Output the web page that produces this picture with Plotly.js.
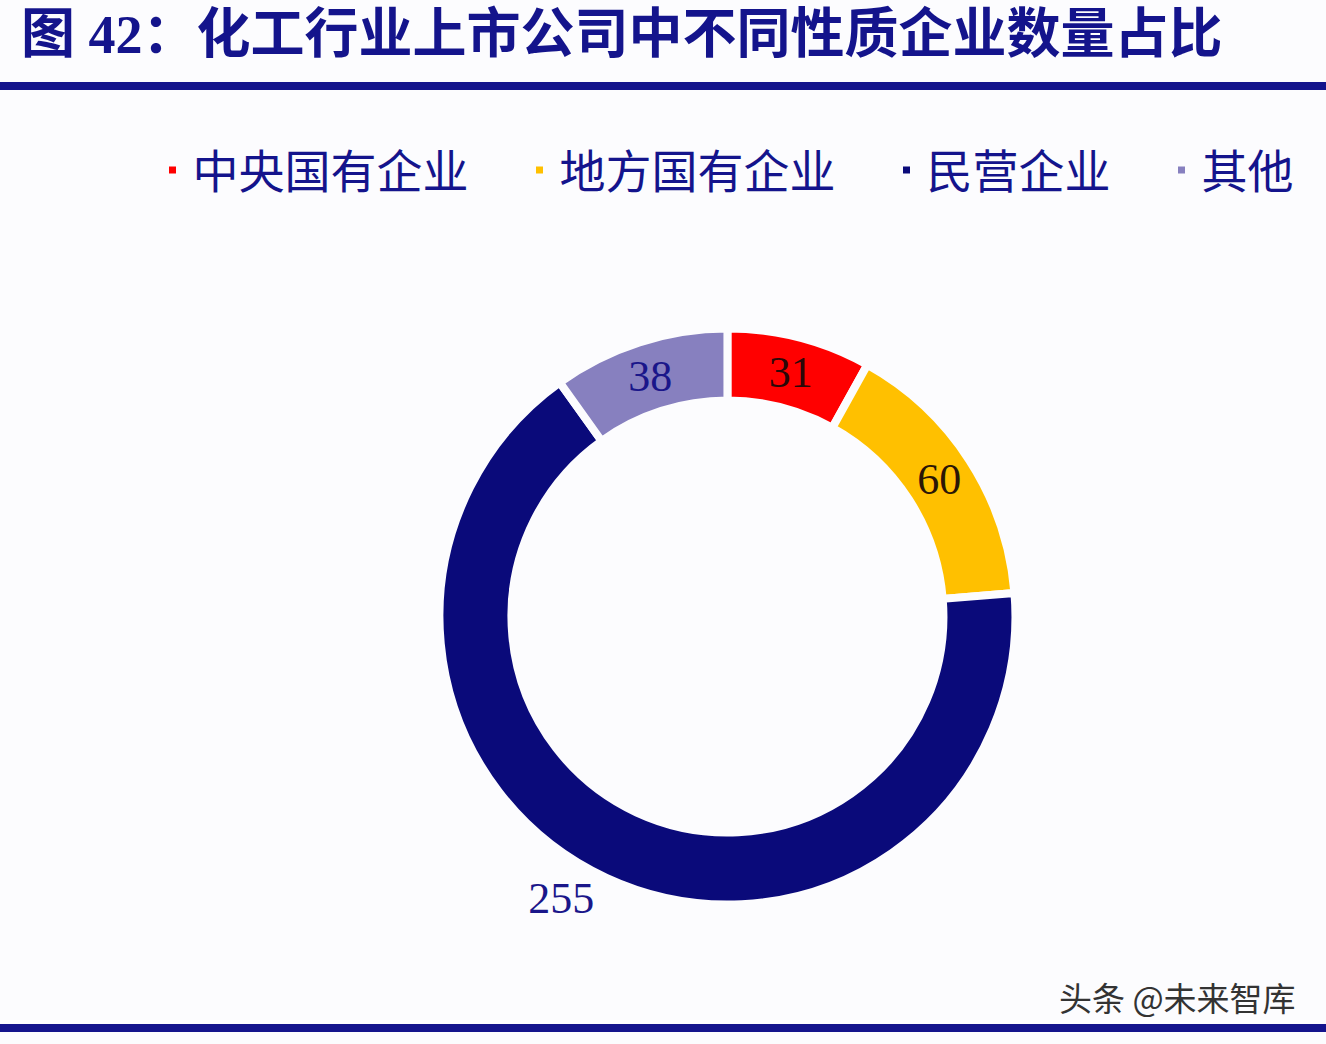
<!DOCTYPE html>
<html>
<head>
<meta charset="utf-8">
<script src="https://cdn.plot.ly/plotly-3.0.1.min.js"></script>
<style>
  body { margin: 0; background: #fcfcfe; }
  #chart { width: 1326px; height: 1044px; }
</style>
</head>
<body>
<div id="chart"></div>
<script>
// company counts by ownership type
let categories = ["中央国有企业", "地方国有企业", "民营企业", "其他"];
let counts = [31, 60, 255, 38];
let sliceColors = ["#ff0000", "#ffc000", "#0a0a7a", "#8780bf"];
let labelColors = ["#2a0808", "#2a1606", "#15127e", "#1a168a"];
let labelPositions = ["inside", "inside", "outside", "inside"];

const navy = "#14148c";

// ideographic space after each name (not the last) keeps the wide gaps between legend items
let legendNames = categories.map((c, i) => (i < categories.length - 1 ? c + "\u3000" : c));

let trace = {
  type: "pie",
  labels: legendNames,
  values: counts,
  hole: 0.75,
  sort: false,
  direction: "clockwise",
  rotation: 0,
  marker: { colors: sliceColors, line: { color: "#fcfcfe", width: 8 } },
  textinfo: "value",
  textposition: labelPositions,
  insidetextorientation: "horizontal",
  textfont: { family: "Liberation Serif, serif", size: 44, color: labelColors },
  outsidetextfont: { family: "Liberation Serif, serif", size: 44, color: "#1a168a" },
  domain: { x: [0.3314, 0.7658], y: [0.1336, 0.6853] },
  hoverinfo: "label+value",
};

let layout = {
  width: 1326,
  height: 1044,
  margin: { l: 0, r: 0, t: 0, b: 0 },
  paper_bgcolor: "#fcfcfe",
  showlegend: true,
  legend: {
    orientation: "h",
    x: 0.115,
    xanchor: "left",
    y: 0.872,
    yanchor: "top",
    font: { family: "Noto Sans CJK SC", size: 46, color: navy },
    traceorder: "normal",
  },
  annotations: [
    {
      text: "<b>图 42：化工行业上市公司中不同性质企业数量占比</b>",
      xref: "paper", yref: "paper",
      x: 0.014, y: 0.966,
      xanchor: "left", yanchor: "middle",
      showarrow: false,
      font: { family: "Liberation Serif, Noto Sans CJK SC", size: 54, color: navy },
    },
    {
      text: "头条 @未来智库",
      xref: "paper", yref: "paper",
      x: 0.979, y: 0.045,
      xanchor: "right", yanchor: "middle",
      showarrow: false,
      font: { family: "Noto Sans CJK SC", size: 33, color: "#333333" },
    },
  ],
  shapes: [
    // rule under the title
    { type: "line", xref: "paper", yref: "paper", x0: 0, x1: 1, y0: 0.9176, y1: 0.9176,
      line: { color: navy, width: 8 } },
    // rule at the bottom
    { type: "line", xref: "paper", yref: "paper", x0: 0, x1: 1, y0: 0.0153, y1: 0.0153,
      line: { color: navy, width: 8 } },
  ],
};

Plotly.newPlot("chart", [trace], layout, { staticPlot: true, displayModeBar: false });
</script>
</body>
</html>
